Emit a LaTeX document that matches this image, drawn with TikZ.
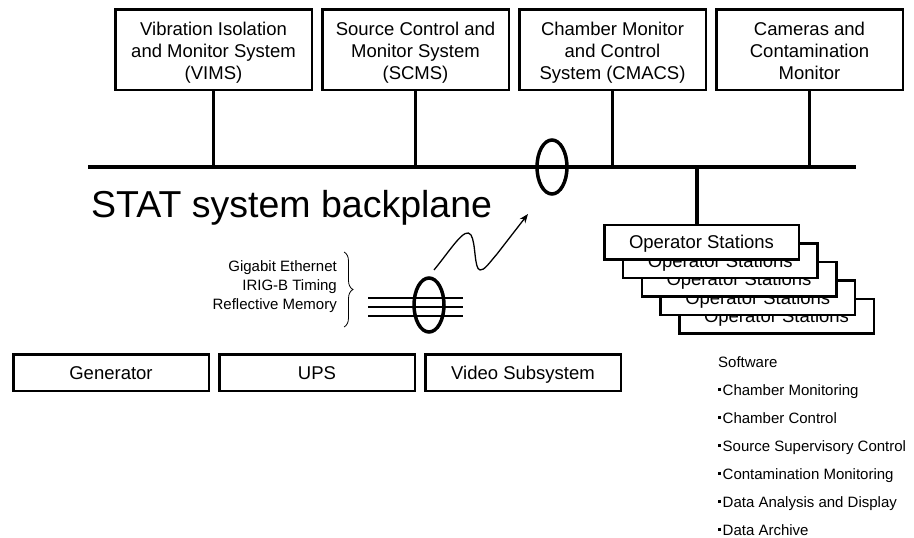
\documentclass[tikz,border=0pt]{standalone}
\usepackage{fontspec}
\setmainfont{Liberation Sans}
\usetikzlibrary{arrows.meta, decorations.pathreplacing}
\newcommand{\sqbullet}{\rule[0.28em]{3pt}{3pt}\hspace{1.5pt}}

\tikzset{
    topbox/.style={draw, line width=2.5pt, minimum width=186.5pt, minimum height=80.5pt,
        align=center, inner sep=2pt, font=\fontsize{18.5}{22}\selectfont,
        text height=64pt, text depth=4pt},
    lowbox/.style={draw, line width=2.5pt, minimum width=195.5pt, minimum height=36.5pt,
        font=\fontsize{18.5}{22}\selectfont, text height=13.2pt, text depth=0pt},
    opbox/.style={draw, fill=white, line width=2.5pt, minimum width=194.5pt, minimum height=34.5pt,
        font=\fontsize{18.5}{22}\selectfont, text height=13.2pt, text depth=0pt},
    bus/.style={line width=3.5pt},
    swtext/.style={anchor=base west, inner sep=0pt, font=\fontsize{15}{18}\selectfont},
}

\begin{document}
\begin{tikzpicture}[x=1pt, y=-1pt, >={Stealth[length=9pt, width=7pt]}]
    \useasboundingbox (0,0) rectangle (914,538);
    % Draw the subsystems on top
    \node[topbox, minimum width=196.5pt] (vims) at (213.5,49.5) {Vibration Isolation\\and Monitor System\\(VIMS)};
    \node[topbox] (scms) at (415.5,49.5) {Source Control and\\Monitor System\\(SCMS)};
    \node[topbox] (cmacs) at (612.5,49.5) {Chamber Monitor\\and Control\\System (CMACS)};
    \node[topbox] (cams) at (809.5,49.5) {Cameras and\\Contamination\\Monitor};

    % Draw the backplane
    \coordinate (bpL) at (88,167);
    \coordinate (bpR) at (856,167);
    \draw[bus] (bpL) -- (bpR);
    \foreach \n in {vims,scms,cmacs,cams} \draw[bus] (\n.south) -- (\n.south |- bpL);
    \draw[bus] (552,167) ellipse (15pt and 27pt);
    \node[anchor=base west, inner sep=0pt, font=\fontsize{37.5}{42}\selectfont] (bptext) at (91,217) {STAT system backplane};

    % Operator stations, back to front
    \foreach \i in {4,3,...,0} \node[opbox] (op\i) at ({701.5+18.75*\i},{242+18.5*\i}) {Operator Stations};
    \draw[bus] ([xshift=-4.5pt]op0.north |- bpL) -- ([xshift=-4.5pt]op0.north);

    % Draw the link bundle
    \node[anchor=east, align=right, inner sep=0pt, font=\fontsize{15}{19}\selectfont] (links) at (337,287)
        {Gigabit Ethernet\\IRIG-B Timing\\Reflective Memory};
    \coordinate (brtop) at (344,252);
    \coordinate (brbot) at (344,327);
    \draw[decorate, decoration={brace, amplitude=9pt}, line width=0.8pt] (brtop) -- (brbot);
    \foreach \y in {298,307,316} \draw[line width=1.8pt] (368,\y) -- (463,\y);
    \draw[bus] (429,305) ellipse (15pt and 27pt);
    \draw[->, line width=1.3pt] (434,270) .. controls (452,248) and (465,226) .. (471,235)
        .. controls (476,243) and (474,269) .. (480,270) .. controls (484,271) and (490,262) .. (497,254)
        -- (528,214);

    % Power and video
    \node[lowbox] (gen) at (111,372.5) {Generator};
    \node[lowbox] (ups) at (317,372.5) {UPS};
    \node[lowbox] (video) at (523,372.5) {Video Subsystem};

    % Software list
    \node[swtext] (sw) at (718,367) {Software};
    \foreach \t [count=\k] in {Chamber Monitoring,Chamber Control,Source Supervisory Control,
        Contamination Monitoring,Data Analysis and Display,Data Archive}
        \node[swtext] (sw\k) at (718,{367+28*\k}) {\sqbullet\t};
\end{tikzpicture}
\end{document}
